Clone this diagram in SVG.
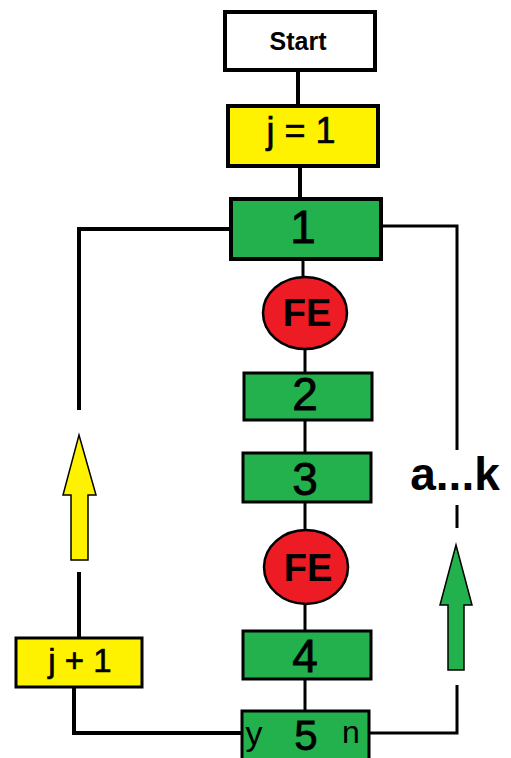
<svg xmlns="http://www.w3.org/2000/svg" width="511" height="758" viewBox="0 0 511 758">
<style>
.box{stroke:#000;stroke-width:4}
.thin{stroke:#000;stroke-width:3}
.g{fill:#22B14C}
.y{fill:#FFF200}
.w{fill:#fff}
.fe{fill:#ED1C24;stroke:#000;stroke-width:2.5}
.ln{stroke:#000;fill:none;stroke-width:4}
.ln3{stroke:#000;fill:none;stroke-width:3}
text{font-family:"Liberation Sans",Arial,sans-serif;fill:#000;text-anchor:middle}
.dig{font-size:46px;stroke:#000;stroke-width:0.8}
.fet{font-size:38px;font-weight:bold}
</style>
<rect width="511" height="758" fill="#fff"/>
<g id="connectors">
<line class="ln" x1="298" y1="70" x2="298" y2="106"/>
<line class="ln" x1="300" y1="166" x2="300" y2="199"/>
<line class="ln3" x1="303" y1="259" x2="303" y2="277"/>
<line class="ln3" x1="305" y1="349" x2="305" y2="373"/>
<line class="ln3" x1="305" y1="420" x2="305" y2="453"/>
<line class="ln3" x1="305" y1="502" x2="305" y2="531"/>
<line class="ln3" x1="305" y1="604" x2="305" y2="631"/>
<line class="ln3" x1="305" y1="679" x2="305" y2="711"/>
<polyline class="ln" points="231,229 79,229 79,410"/>
<line class="ln" x1="79" y1="572" x2="79" y2="638"/>
<polyline class="ln" points="242,733 74,733 74,687"/>
<polyline class="ln3" points="381,226 457,226 457,450"/>
<line class="ln3" x1="457" y1="505" x2="457" y2="528"/>
<polyline class="ln3" points="457,685 457,733 368,733"/>
<polygon points="79,435 96,495 88,495 88,560 71,560 71,495 63,495" fill="#FFF200" stroke="#000" stroke-width="1.5"/>
<polygon points="456,545 472,605 464,605 464,670 448,670 448,605 440,605" fill="#22B14C" stroke="#000" stroke-width="1.5"/>
<text x="455" y="490" style="font-size:46px;font-weight:bold">a...k</text>
</g>
<g id="start"><rect class="box w" x="225" y="12" width="150" height="58"/><text x="298" y="50" style="font-size:25px;font-weight:bold">Start</text></g>
<g id="j1"><rect class="box y" x="228" y="106" width="150" height="60"/><text x="301" y="143" style="font-size:36px;stroke:#000;stroke-width:0.6">j = 1</text></g>
<g id="n1"><rect class="box g" x="231" y="199" width="150" height="60"/><text class="dig" x="303" y="243">1</text></g>
<g id="fe1"><ellipse class="fe" cx="305" cy="313" rx="42" ry="36"/><text class="fet" x="307" y="326">FE</text></g>
<g id="n2"><rect class="thin g" x="244" y="373" width="128" height="47"/><text class="dig" x="305" y="410">2</text></g>
<g id="n3"><rect class="thin g" x="243" y="453" width="128" height="49"/><text class="dig" x="305" y="495">3</text></g>
<g id="fe2"><ellipse class="fe" cx="306" cy="567" rx="42" ry="37"/><text class="fet" x="308" y="581">FE</text></g>
<g id="n4"><rect class="thin g" x="243" y="631" width="128" height="48"/><text class="dig" x="305" y="672">4</text></g>
<g id="n5"><rect class="thin g" x="242" y="711" width="127" height="49"/><text class="dig" x="306" y="750" style="font-size:42px">5</text><text x="254" y="745" style="font-size:34px">y</text><text x="351" y="743" style="font-size:32px">n</text></g>
<g id="jplus"><rect class="thin y" x="16" y="638" width="126" height="49"/><text x="80" y="672" style="font-size:33px;stroke:#000;stroke-width:0.6">j + 1</text></g>
</svg>
